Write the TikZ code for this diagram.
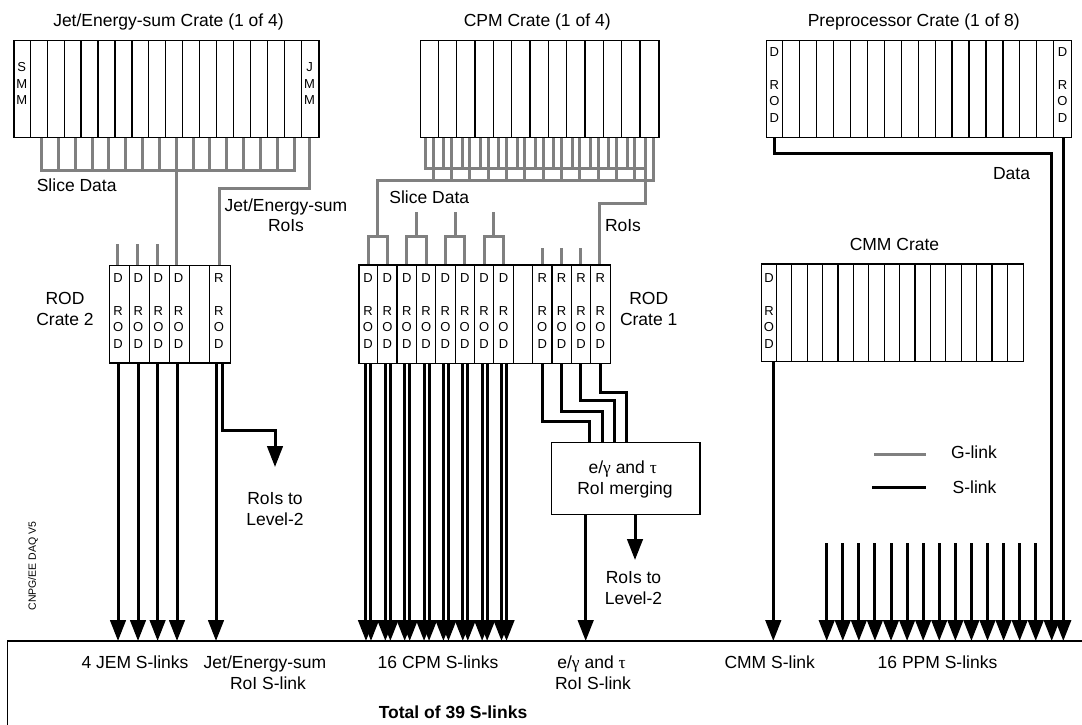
\documentclass[tikz,border=0pt]{standalone}
\usepackage{fontspec}
\setmainfont{Liberation Sans}
\newfontfamily\grk{Liberation Serif}
\usetikzlibrary{arrows.meta}
\definecolor{glink}{RGB}{128,128,128}
\newcommand\rodcol[4]{%
  \node[let] (#1a) at (#2,#3+4.65) {#4};
  \node[let] (#1b) at (#2,#3+37.65) {R};
  \node[let] (#1c) at (#2,#3+53.9) {O};
  \node[let] (#1d) at (#2,#3+70.3) {D};}
\begin{document}
\begin{tikzpicture}[x=1pt,y=-1pt,
  lbl/.style={font=\fontsize{17.5}{21}\selectfont, anchor=base, inner sep=0pt},
  blbl/.style={lbl, font=\fontsize{17.5}{21}\selectfont\bfseries},
  let/.style={font=\fontsize{13}{15}\selectfont, anchor=base, inner sep=0pt},
  crate/.style={draw, fill=white, line width=1.4pt, anchor=north west, inner sep=0pt},
  slotline/.style={line width=1.2pt},
  gl/.style={draw=glink, line width=3pt, line cap=rect},
  sl/.style={draw=black, line width=3pt, line cap=rect},
  sa/.style={sl, -{Triangle[width=15.5pt,length=21pt]}},
]
\fill[white] (0,0) rectangle (1082,724);
\useasboundingbox (0,0) rectangle (1082,724);
\coordinate (bot) at (0,641);

% ---------------- Jet/Energy-sum crate links (G-links)
\foreach \k in {0,...,15} \draw[gl] (41.7+\k*16.82,136.7) -- (41.7+\k*16.82,170);
\draw[gl] (41.7,170) -- (294,170);
\draw[gl] (176.5,170) -- (176.5,265);
\draw[gl] (309.5,136.7) -- (309.5,188.3) -- (219.5,188.3) -- (219.5,265);
\foreach \x in {117.5,137.5,157.5} \draw[gl] (\x,245.5) -- (\x,265);

% ---------------- CPM crate links (G-links)
\foreach \i in {0,...,12} {
  \draw[gl] (425.5+\i*18.33,136.7) -- (425.5+\i*18.33,168.3);
  \draw[gl] (433.3+\i*18.33,136.7) -- (433.3+\i*18.33,180.7);
}
\draw[gl] (425.5,168.3) -- (645.5,168.3);
\draw[gl] (377.7,180.7) -- (653.3,180.7);
\draw[gl] (645.5,168.3) -- (645.5,203.3) -- (599,203.3) -- (599,264.3);
\draw[gl] (377.7,180.7) -- (377.7,236);
\foreach \s in {377.7,416.4,455.1,493.9} {
  \draw[gl] (\s,213.3) -- (\s,236);
  \draw[gl] (\s-9.7,264.3) -- (\s-9.7,236) -- (\s+9.7,236) -- (\s+9.7,264.3);
}
\foreach \x in {542.5,561.7,580.5} \draw[gl] (\x,249) -- (\x,264.3);

% ---------------- S-links ROD crate 2
\foreach \x in {118,138,157.6,177} \draw[sa] (\x,362.3) -- (\x,0 |- bot);
\draw[sa] (216,362.3) -- (216,0 |- bot);
\draw[sa] (222.7,362.3) -- (222.7,430) -- (275,430) -- (275,467);

% ---------------- S-links ROD crate 1
\foreach \j in {1,...,8} {
  \draw[sa] (358.3+19.36*\j-9.68-2,362.7) -- (358.3+19.36*\j-9.68-2,641);
  \draw[sa] (358.3+19.36*\j-9.68+3,362.7) -- (358.3+19.36*\j-9.68+3,641);
}
\draw[sl] (542.5,362.7) -- (542.5,421.7) -- (589.3,421.7) -- (589.3,441.7);
\draw[sl] (561.5,362.7) -- (561.5,411.5) -- (602.7,411.5) -- (602.7,441.7);
\draw[sl] (580.5,362.7) -- (580.5,400) -- (614,400) -- (614,441.7);
\draw[sl] (600,362.7) -- (600,392.5) -- (626,392.5) -- (626,441.7);

% ---------------- merging box
\node[crate, minimum width=148.3pt, minimum height=72.3pt] (merge) at (551,441.7) {};
\node[lbl] (m1) at (622.7,473) {e/{\grk γ} and {\grk τ}};
\node[lbl] (m2) at (625,494) {RoI merging};
\draw[sa] (585.7,0 |- merge.south) -- (585.7,0 |- bot);
\draw[sa] (635,0 |- merge.south) -- (635,560);

% ---------------- CMM and Preprocessor S-links
\draw[sa] (773.3,361) -- (773.3,0 |- bot);
\draw[sa] (774.3,136.7) -- (774.3,153.3) -- (1051.7,153.3) -- (1051.7,0 |- bot);
\draw[sa] (1063.3,136.7) -- (1063.3,0 |- bot);
\foreach \k in {0,...,13} \draw[sa] (826.7+\k*16.08,544) -- (826.7+\k*16.08,0 |- bot);

% ---------------- crates
\node[crate, minimum width=305pt, minimum height=96.7pt] (jet) at (13.3,40) {};
\foreach \i in {1,...,17} \draw[slotline] (13.3+\i*16.944,40) -- (13.3+\i*16.944,136.7);
\node[crate, minimum width=238.3pt, minimum height=96.7pt] (cpm) at (420,40) {};
\foreach \i in {1,...,12} \draw[slotline] (420+\i*18.33,40) -- (420+\i*18.33,136.7);
\node[crate, minimum width=305pt, minimum height=96.7pt] (ppr) at (765.7,40) {};
\foreach \i in {1,...,17} \draw[slotline] (765.7+\i*16.944,40) -- (765.7+\i*16.944,136.7);
\node[crate, minimum width=121pt, minimum height=97.3pt] (rod2) at (109,265) {};
\foreach \i in {1,...,5} \draw[slotline] (109+\i*20.167,265) -- (109+\i*20.167,362.3);
\node[crate, minimum width=251.7pt, minimum height=98.4pt] (rod1) at (358.3,264.3) {};
\foreach \i in {1,...,12} \draw[slotline] (358.3+\i*19.36,264.3) -- (358.3+\i*19.36,362.7);
\node[crate, minimum width=261.7pt, minimum height=97.7pt] (cmm) at (761,263.3) {};
\foreach \i in {1,...,16} \draw[slotline] (761+\i*15.394,263.3) -- (761+\i*15.394,361);

% ---------------- slot letters
\node[let] (smm1) at (21.8,71.3) {S};
\node[let] (smm2) at (21.8,88) {M};
\node[let] (smm3) at (21.8,104) {M};
\node[let] (jmm1) at (309.5,71.3) {J};
\node[let] (jmm2) at (309.5,88) {M};
\node[let] (jmm3) at (309.5,104) {M};
\rodcol{pl}{774.3}{51.7}{D}
\rodcol{pr}{1062.5}{51.7}{D}
\rodcol{cm}{769}{278}{D}
\foreach \n in {1,...,4} {\rodcol{rb\n}{109+20.167*\n-11.1}{278}{D}}
\rodcol{rbr}{218.9}{278}{R}
\foreach \n in {1,...,8} {\rodcol{ra\n}{358.3+19.36*\n-9.68}{278}{D}}
\foreach \n in {10,...,13} {\rodcol{ra\n}{358.3+19.36*\n-9.68}{278}{R}}

% ---------------- labels
\node[lbl] (tjet) at (168.5,26.3) {Jet/Energy-sum Crate (1 of 4)};
\node[lbl] (tcpm) at (537.2,26.3) {CPM Crate (1 of 4)};
\node[lbl] (tppr) at (913.8,26.3) {Preprocessor Crate (1 of 8)};
\node[lbl] (slj) at (76.7,191.3) {Slice Data};
\node[lbl] (jr1) at (286,211) {Jet/Energy-sum};
\node[lbl] (jr2) at (286,231.3) {RoIs};
\node[lbl] (slc) at (429.3,203) {Slice Data};
\node[lbl] (cr) at (623,231.3) {RoIs};
\node[lbl] (rc1a) at (648.7,304.3) {ROD};
\node[lbl] (rc1b) at (648.7,325.3) {Crate 1};
\node[lbl] (rc2a) at (65,304.3) {ROD};
\node[lbl] (rc2b) at (65,325.3) {Crate 2};
\node[lbl] (tcmm) at (894.5,250.3) {CMM Crate};
\node[lbl] (data) at (1011.5,179.3) {Data};
\node[lbl] (l2a) at (275,504) {RoIs to};
\node[lbl] (l2b) at (275,525) {Level-2};
\node[lbl] (l2c) at (633.5,583) {RoIs to};
\node[lbl] (l2d) at (633.5,604) {Level-2};

% legend
\draw[gl, line cap=butt] (874.3,454) -- (926,454);
\draw[sl, line cap=butt] (872.3,487.3) -- (926,487.3);
\node[lbl] (lg) at (974,458.3) {G-link};
\node[lbl] (ls) at (974.5,493.6) {S-link};

\node[font=\fontsize{10.5}{12}\selectfont, rotate=90, inner sep=0pt] (ver) at (33,566) {CNPG/EE DAQ V5};

% ---------------- bottom box
\draw[line width=1.6pt] (7.6,730) -- (7.6,641) -- (1090,641);
\node[lbl] (b1) at (135,668.5) {4 JEM S-links};
\node[lbl] (b2) at (265,668.5) {Jet/Energy-sum};
\node[lbl] (b2b) at (268,689.5) {RoI S-link};
\node[lbl] (b3) at (438,668.5) {16 CPM S-links};
\node[lbl] (b4) at (591.5,668.5) {e/{\grk γ} and {\grk τ}};
\node[lbl] (b4b) at (593,689.5) {RoI S-link};
\node[lbl] (b5) at (769.7,668.5) {CMM S-link};
\node[lbl] (b6) at (937.5,668.5) {16 PPM S-links};
\node[blbl] (tot) at (453,718) {Total of 39 S-links};
\end{tikzpicture}
\end{document}
